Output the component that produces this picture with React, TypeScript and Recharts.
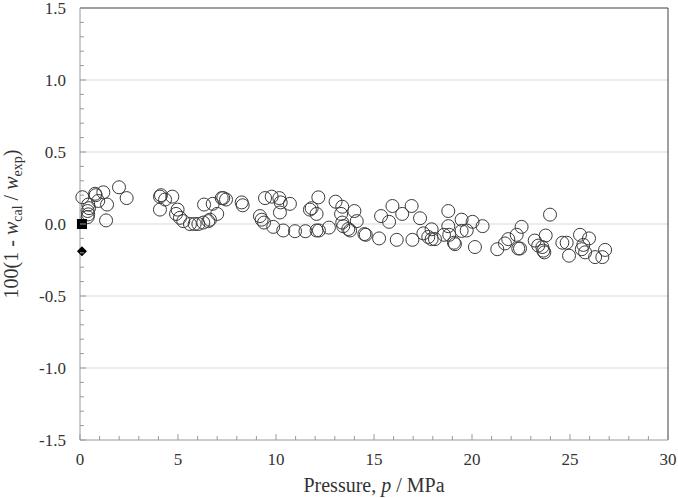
import React from "react";
import {
  ScatterChart,
  Scatter,
  XAxis,
  YAxis,
  ReferenceLine,
} from "recharts";

// deviation 100(1 - w_cal / w_exp) against pressure (MPa)
const pressure = [
  0.12, 0.42, 0.46, 0.39, 0.42, 0.39, 0.77, 0.8, 1.19, 0.93, 1.38, 1.33, 1.99, 2.38,
  4.08, 4.13, 4.34, 4.71, 4.08, 4.98, 4.9, 5.1, 5.27, 5.61, 5.85, 6.04, 6.29, 6.55,
  6.63, 7.0, 6.33, 6.77, 7.23, 7.31, 7.45, 8.25, 8.3, 9.44, 9.78, 10.17, 10.24, 10.71,
  10.2, 9.18, 9.27, 9.39, 9.86, 10.37, 10.97, 11.5, 11.73, 12.07, 12.19, 12.7, 12.16,
  11.82, 12.07, 13.04, 13.38, 13.32, 13.38, 13.43, 13.69, 13.78, 14.0, 14.12, 14.51,
  14.58, 15.26, 15.36, 15.77, 15.94, 16.16, 16.44, 16.92, 16.96, 17.35, 17.52, 17.77,
  17.94, 18.11, 17.94, 18.79, 18.79, 18.57, 18.84, 19.08, 19.13, 19.47, 19.47, 19.73,
  20.03, 20.15, 20.54, 21.29, 21.68, 21.85, 22.28, 22.53, 22.36, 22.45, 23.2, 23.38,
  23.59, 23.64, 23.69, 23.76, 23.98, 24.61, 24.83, 24.95, 25.51, 25.68, 25.6, 25.77,
  25.97, 26.28, 26.65, 26.79,
];
const deviation = [
  0.186, 0.135, 0.11, 0.09, 0.067, 0.048, 0.21, 0.2, 0.22, 0.16, 0.135, 0.025, 0.255, 0.18,
  0.19, 0.2, 0.17, 0.19, 0.1, 0.1, 0.07, 0.043, 0.02, 0.0, 0.0, 0.0, 0.01, 0.02,
  0.03, 0.07, 0.135, 0.14, 0.18, 0.18, 0.17, 0.15, 0.13, 0.18, 0.19, 0.18, 0.15, 0.14,
  0.08, 0.055, 0.03, 0.01, -0.02, -0.045, -0.05, -0.05, 0.1, -0.045, -0.045, -0.025, 0.185,
  0.11, 0.07, 0.155, 0.12, 0.07, 0.01, -0.015, -0.035, -0.045, 0.09, 0.02, -0.07,
  -0.075, -0.1, 0.055, 0.015, 0.125, -0.11, 0.07, 0.125, -0.11, 0.04, -0.065, -0.09,
  -0.105, -0.105, -0.037, 0.09, -0.015, -0.075, -0.075, -0.13, -0.14, 0.03, -0.048, -0.045,
  0.015, -0.16, -0.015, -0.175, -0.135, -0.105, -0.075, -0.02, -0.17, -0.17, -0.115, -0.15,
  -0.16, -0.185, -0.197, -0.08, 0.065, -0.13, -0.13, -0.22, -0.075, -0.145, -0.175, -0.197,
  -0.1, -0.23, -0.23, -0.18,
];

// reference points at 0.1 MPa
const squarePoint = [{ p: 0.1, v: 0.0 }];
const diamondPoint = [{ p: 0.1, v: -0.19 }];

const xTicks = Array.from({ length: 31 }, (_, i) => i);
const yTicks = Array.from({ length: 31 }, (_, i) => Math.round((i - 15) * 10) / 100);
const gridValues = [-1, -0.5, 0, 0.5, 1];

const serif = { fontFamily: "'Liberation Serif', 'Times New Roman', 'DejaVu Serif', serif" };

const circles = pressure.map((p, i) => ({ p, v: deviation[i] }));

const XTick = (props: any) => {
  const { x, y, payload } = props;
  const major = payload.value % 5 === 0;
  return (
    <g>
      <line x1={x} x2={x} y1={y} y2={y - (major ? 6 : 4)} stroke="#9a9a9a" />
      {major && (
        <text x={x} y={y + 25} textAnchor="middle" fontSize={17} fill="#333" style={serif}>
          {payload.value}
        </text>
      )}
    </g>
  );
};

const YTick = (props: any) => {
  const { x, y, payload } = props;
  const major = Math.abs(Math.round(payload.value * 10) % 5) === 0;
  return (
    <g>
      <line x1={x} x2={x + (major ? 6 : 4)} y1={y} y2={y} stroke="#9a9a9a" />
      {major && (
        <text x={x - 14} y={y + 6} textAnchor="end" fontSize={17} fill="#333" style={serif}>
          {payload.value.toFixed(1)}
        </text>
      )}
    </g>
  );
};

const XTitle = (props: any) => {
  const { x, width, y } = props.viewBox;
  return (
    <text x={x + width / 2} y={y + 52} textAnchor="middle" fontSize={20} fill="#333" style={serif}>
      Pressure, <tspan fontStyle="italic">p</tspan> / MPa
    </text>
  );
};

const YTitle = (props: any) => {
  const { y, height } = props.viewBox;
  const cx = 18;
  const cy = y + height / 2;
  return (
    <text
      x={cx}
      y={cy}
      transform={`rotate(-90, ${cx}, ${cy})`}
      textAnchor="middle"
      fontSize={20}
      fill="#333"
      style={serif}
    >
      100(1 - <tspan fontStyle="italic">w</tspan>
      <tspan fontSize={14} dy={4}>cal</tspan>
      <tspan dy={-4}> / </tspan>
      <tspan fontStyle="italic">w</tspan>
      <tspan fontSize={14} dy={4}>exp</tspan>
      <tspan dy={-4}>)</tspan>
    </text>
  );
};

const OpenCircle = (props: any) => (
  <circle cx={props.cx} cy={props.cy} r={6.5} fill="none" stroke="#3a3a3a" strokeWidth={1} />
);

const Square = (props: any) => (
  <rect x={props.cx - 5} y={props.cy - 5} width={10} height={10} fill="#000" />
);

const Diamond = (props: any) => (
  <polygon
    points={`${props.cx},${props.cy - 5} ${props.cx + 5},${props.cy} ${props.cx},${props.cy + 5} ${props.cx - 5},${props.cy}`}
    fill="#000"
  />
);

export default function App() {
  return (
    <div style={{ position: "absolute", left: 0, top: 0, background: "#fff" }}>
      <ScatterChart width={678} height={498} margin={{ top: 8, right: 10, bottom: 0, left: 0 }}>
        <XAxis
          type="number"
          dataKey="p"
          domain={[0, 30]}
          ticks={xTicks}
          interval={0}
          tickSize={0}
          tickMargin={0}
          height={58}
          stroke="#9a9a9a"
          tick={<XTick />}
          label={{ content: <XTitle /> }}
        />
        <YAxis
          type="number"
          dataKey="v"
          domain={[-1.5, 1.5]}
          ticks={yTicks}
          interval={0}
          tickSize={0}
          tickMargin={0}
          width={80}
          stroke="#9a9a9a"
          tick={<YTick />}
          label={{ content: <YTitle /> }}
        />
        {gridValues.map((g) => (
          <ReferenceLine key={g} y={g} stroke="#d9d9d9" strokeWidth={1} />
        ))}
        <ReferenceLine y={1.5} stroke="#404040" strokeWidth={1} />
        <ReferenceLine x={30} stroke="#404040" strokeWidth={1} />
        <Scatter data={circles} shape={<OpenCircle />} isAnimationActive={false} />
        <Scatter data={squarePoint} shape={<Square />} isAnimationActive={false} />
        <Scatter data={diamondPoint} shape={<Diamond />} isAnimationActive={false} />
      </ScatterChart>
    </div>
  );
}
